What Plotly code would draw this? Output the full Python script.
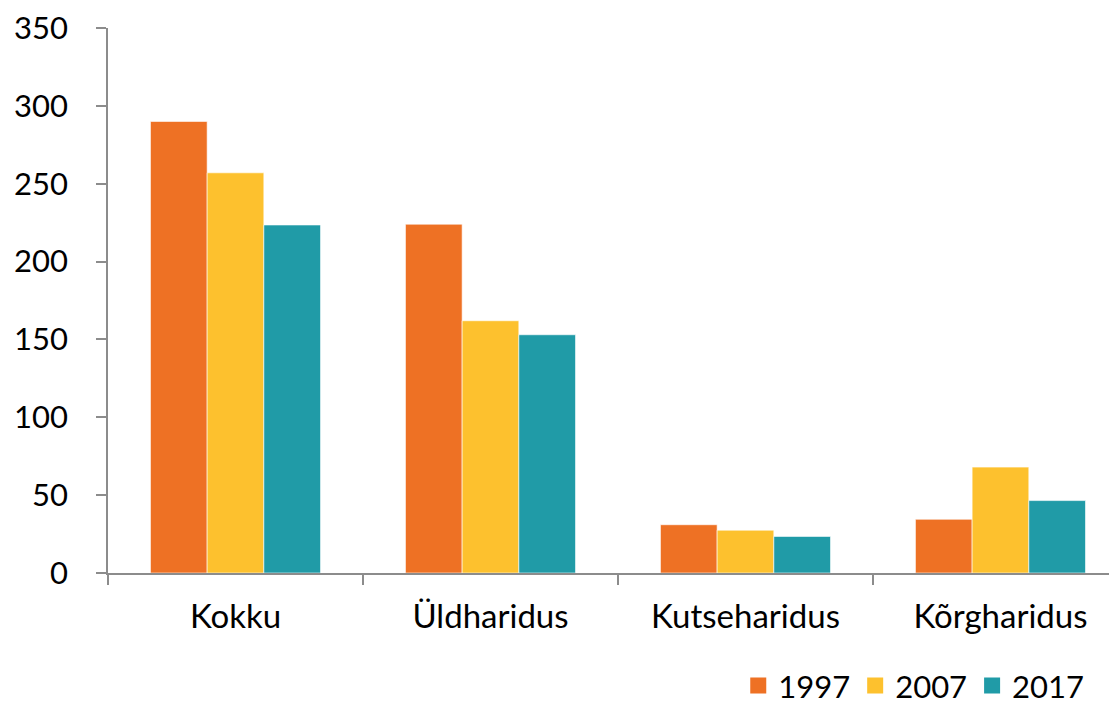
import plotly.graph_objects as go

categories = ["Kokku", "Üldharidus", "Kutseharidus", "Kõrgharidus"]
years = ["1997", "2007", "2017"]
v1997 = [290, 224, 31, 34.5]
v2007 = [257, 162, 27.5, 68]
v2017 = [223.5, 153, 23.5, 46.5]
colors = ["#EE7124", "#FDC12E", "#209BA7"]

fig = go.Figure()
for name, vals, col in zip(years, [v1997, v2007, v2017], colors):
    fig.add_trace(go.Bar(
        x=categories, y=vals, name=name, showlegend=False,
        marker=dict(color=col, line=dict(color="rgba(255,255,255,0.6)", width=1)),
    ))
# legend entries with larger square swatches
for name, col in zip(years, colors):
    fig.add_trace(go.Scatter(
        x=[None], y=[None], name=name, mode="markers",
        marker=dict(symbol="square", color=col, size=20),
    ))

axis_col = "#8C8C8C"
# page body has an 8px margin, so margins are shifted by that
fig.update_layout(
    barmode="group",
    bargap=0.333,
    bargroupgap=0,
    width=1117, height=704,
    margin=dict(l=100, r=8, t=20, b=139),
    plot_bgcolor="white",
    paper_bgcolor="white",
    font=dict(family="Lato, Carlito, sans-serif", size=31, color="black"),
    showlegend=True,
    legend=dict(orientation="h", xref="container", yref="container",
                xanchor="right", x=0.968, yanchor="middle", y=0.037,
                font=dict(size=31), itemsizing="trace", traceorder="normal",
                tracegroupgap=0),
    xaxis=dict(range=[-0.5, 3.457], showline=True, linecolor=axis_col, linewidth=1.5,
               ticks="outside", tickson="boundaries", ticklen=10, tickcolor=axis_col,
               tickwidth=1.5, showgrid=False, automargin=False,
               tickfont=dict(size=33), ticklabelstandoff=14),
    yaxis=dict(range=[0, 350], dtick=50, showline=True, linecolor=axis_col, linewidth=1.5,
               ticks="outside", ticklen=10, tickcolor=axis_col, tickwidth=1.5,
               showgrid=False, zeroline=False, automargin=False,
               tickfont=dict(size=31), ticklabelstandoff=22,
               ticklabeloverflow="allow"),
)

fig.write_html("out.html")
